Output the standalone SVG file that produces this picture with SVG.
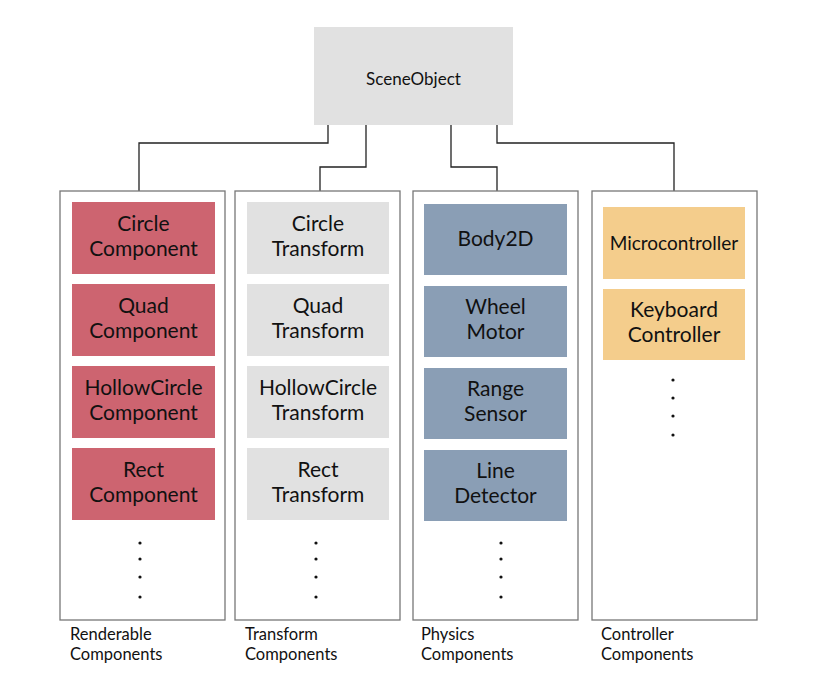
<svg xmlns="http://www.w3.org/2000/svg" width="815" height="684" viewBox="0 0 815 684">
<style>
text{font-family:Lato,"Open Sans","Liberation Sans",sans-serif;fill:#111}
.col{fill:#fff;stroke:#777;stroke-width:1.3}
.n{font-size:21px;text-anchor:middle}
.lbl{font-size:16.5px}
.red{fill:#cd6470}
.gray{fill:#e1e1e1}
.blue{fill:#8a9eb5}
.yel{fill:#f4cd8c}
.c{fill:none;stroke:#222;stroke-width:1.3}
.d{fill:#111}
</style>
<rect width="815" height="684" fill="#fff"/>
<g id="connectors">
<polyline class="c" points="328,125 328,143 139,143 139,191"/>
<polyline class="c" points="366,125 366,167 320,167 320,191"/>
<polyline class="c" points="451,125 451,167 497,167 497,191"/>
<polyline class="c" points="497,125 497,143 674,143 674,191"/>
</g>
<g id="sceneobject">
<rect x="314" y="27" width="199" height="98" class="gray"/>
<text x="413.5" y="85" text-anchor="middle" font-size="17">SceneObject</text>
</g>
<g id="renderable">
<rect class="col" x="60" y="191" width="165" height="429"/>
<text class="lbl" x="70" y="640">Renderable</text>
<text class="lbl" x="70" y="660">Components</text>
<circle class="d" cx="140" cy="543" r="1.6"/><circle class="d" cx="140" cy="559" r="1.6"/><circle class="d" cx="140" cy="577" r="1.6"/><circle class="d" cx="140" cy="597" r="1.6"/>
</g>
<g id="circle-component"><rect class="red" x="72" y="202" width="143" height="72"/><text class="n" x="143.5" y="231">Circle</text><text class="n" x="143.5" y="256">Component</text></g>
<g id="quad-component"><rect class="red" x="72" y="284" width="143" height="72"/><text class="n" x="143.5" y="313">Quad</text><text class="n" x="143.5" y="338">Component</text></g>
<g id="hollowcircle-component"><rect class="red" x="72" y="366" width="143" height="72"/><text class="n" x="143.5" y="395">HollowCircle</text><text class="n" x="143.5" y="420">Component</text></g>
<g id="rect-component"><rect class="red" x="72" y="448" width="143" height="72"/><text class="n" x="143.5" y="477">Rect</text><text class="n" x="143.5" y="502">Component</text></g>

<g id="transform">
<rect class="col" x="235" y="191" width="165" height="429"/>
<text class="lbl" x="245" y="640">Transform</text>
<text class="lbl" x="245" y="660">Components</text>
<circle class="d" cx="316" cy="543" r="1.6"/><circle class="d" cx="316" cy="559" r="1.6"/><circle class="d" cx="316" cy="577" r="1.6"/><circle class="d" cx="316" cy="597" r="1.6"/>
</g>
<g id="circle-transform"><rect class="gray" x="247" y="202" width="142" height="72"/><text class="n" x="318" y="231">Circle</text><text class="n" x="318" y="256">Transform</text></g>
<g id="quad-transform"><rect class="gray" x="247" y="284" width="142" height="72"/><text class="n" x="318" y="313">Quad</text><text class="n" x="318" y="338">Transform</text></g>
<g id="hollowcircle-transform"><rect class="gray" x="247" y="366" width="142" height="72"/><text class="n" x="318" y="395">HollowCircle</text><text class="n" x="318" y="420">Transform</text></g>
<g id="rect-transform"><rect class="gray" x="247" y="448" width="142" height="72"/><text class="n" x="318" y="477">Rect</text><text class="n" x="318" y="502">Transform</text></g>

<g id="physics">
<rect class="col" x="413" y="191" width="165" height="429"/>
<text class="lbl" x="421" y="640">Physics</text>
<text class="lbl" x="421" y="660">Components</text>
<circle class="d" cx="501" cy="543" r="1.6"/><circle class="d" cx="501" cy="559" r="1.6"/><circle class="d" cx="501" cy="577" r="1.6"/><circle class="d" cx="501" cy="597" r="1.6"/>
</g>
<g id="body2d"><rect class="blue" x="424" y="204" width="143" height="71"/><text class="n" x="495.5" y="246">Body2D</text></g>
<g id="wheel-motor"><rect class="blue" x="424" y="286" width="143" height="71"/><text class="n" x="495.5" y="314">Wheel</text><text class="n" x="495.5" y="339">Motor</text></g>
<g id="range-sensor"><rect class="blue" x="424" y="368" width="143" height="71"/><text class="n" x="495.5" y="396">Range</text><text class="n" x="495.5" y="421">Sensor</text></g>
<g id="line-detector"><rect class="blue" x="424" y="450" width="143" height="71"/><text class="n" x="495.5" y="478">Line</text><text class="n" x="495.5" y="503">Detector</text></g>

<g id="controller">
<rect class="col" x="592" y="191" width="165" height="429"/>
<text class="lbl" x="601" y="640">Controller</text>
<text class="lbl" x="601" y="660">Components</text>
<circle class="d" cx="673" cy="380" r="1.6"/><circle class="d" cx="673" cy="398" r="1.6"/><circle class="d" cx="673" cy="416" r="1.6"/><circle class="d" cx="673" cy="435" r="1.6"/>
</g>
<g id="microcontroller"><rect class="yel" x="603" y="207" width="142" height="72"/><text class="n" x="674" y="250" style="font-size:19px">Microcontroller</text></g>
<g id="keyboard-controller"><rect class="yel" x="603" y="289" width="142" height="71"/><text class="n" x="674" y="317">Keyboard</text><text class="n" x="674" y="342">Controller</text></g>
</svg>
